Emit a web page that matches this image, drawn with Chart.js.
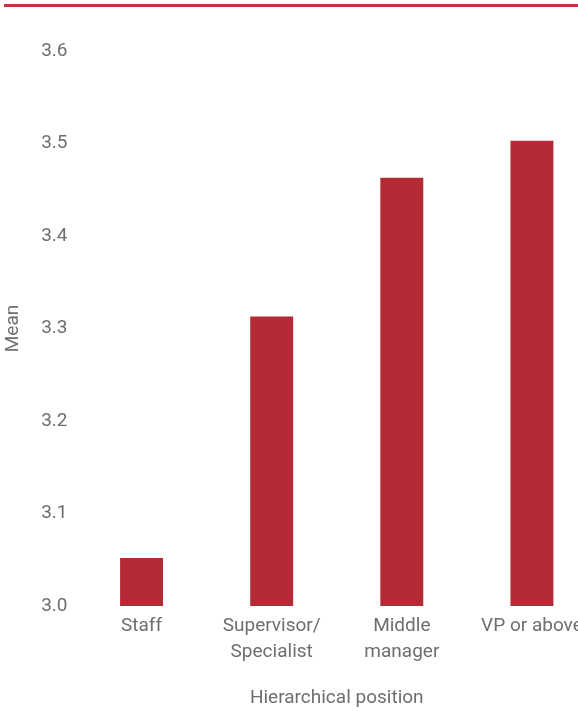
<!DOCTYPE html>
<html>
<head>
<meta charset="utf-8">
<script src="https://cdn.jsdelivr.net/npm/chart.js@4/dist/chart.umd.min.js"></script>
<style>
  html, body { margin: 0; padding: 0; background: #fff; overflow: hidden; }
  #wrap { position: relative; width: 600px; height: 711px; }
  #topRule { position: absolute; left: 4px; top: 4px; width: 600px; height: 3px; background: #c0343d; }
  #myChart { position: absolute; left: 0; top: 0; }
</style>
</head>
<body>
<div id="wrap">
  <canvas id="myChart" width="600" height="711"></canvas>
  <div id="topRule"></div>
</div>
<script>
// DATOS
const positions = ['Staff', ['Supervisor/', 'Specialist'], ['Middle', 'manager'], 'VP or above'];
const meanValues = [3.052, 3.313, 3.463, 3.503];
const yTicks = [3.0, 3.1, 3.2, 3.3, 3.4, 3.5, 3.6];

const barColor = '#b42b35';
const textColor = '#6e6e6e';
const fontFamily = 'Roboto, "Liberation Sans", sans-serif';

const data = {
    labels: positions,
    datasets: [{
        label: 'Mean',
        data: meanValues,
        backgroundColor: barColor,
        barPercentage: 0.33,
        categoryPercentage: 1.0
    }]
};

const config = {
    type: 'bar',
    data: data,
    options: {
        responsive: false,
        animation: false,
        layout: { padding: { top: 51, right: 3, left: 0, bottom: 0 } },
        plugins: {
            legend: { display: false },
            tooltip: { enabled: false }
        },
        scales: {
            x: {
                grid: { display: false, drawTicks: false },
                border: { display: false },
                ticks: {
                    color: textColor,
                    font: { family: fontFamily, size: 19, lineHeight: 1.36 },
                    padding: 7,
                    maxRotation: 0
                },
                title: {
                    display: true,
                    text: 'Hierarchical position',
                    color: textColor,
                    font: { family: fontFamily, size: 19 },
                    padding: { top: 18, bottom: 1 }
                },
                afterFit: (scale) => { scale.height = 105; }
            },
            y: {
                min: 3.0,
                max: 3.6,
                afterBuildTicks: (scale) => {
                    scale.ticks = yTicks.map((v) => ({ value: v }));
                },
                grid: { display: false, drawTicks: false },
                border: { display: false },
                ticks: {
                    color: textColor,
                    font: { family: fontFamily, size: 19 },
                    padding: 9,
                    callback: (v) => v.toFixed(1)
                },
                title: {
                    display: true,
                    text: 'Mean',
                    color: textColor,
                    font: { family: fontFamily, size: 19 },
                    padding: { top: 2, bottom: 0 }
                },
                afterFit: (scale) => { scale.width = 76.5; }
            }
        }
    }
};

const myChart = new Chart(document.getElementById('myChart'), config);
</script>
</body>
</html>
